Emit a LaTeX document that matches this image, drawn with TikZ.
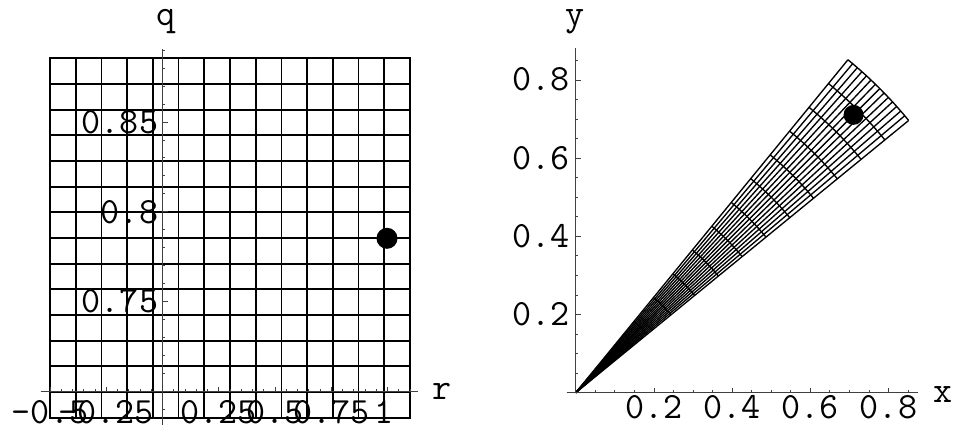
\documentclass[tikz,border=0pt]{standalone}
\usetikzlibrary{positioning}

\begin{document}
\begin{tikzpicture}[
    x=1pt, y=-1pt,
    gridline/.style={line width=1.8pt, line cap=rect},
    meshline/.style={line width=1.35pt},
    axisline/.style={line width=0.9pt, black!75},
    tickmark/.style={line width=0.8pt, black!75},
    ticklabel/.style={inner sep=0pt, font={\ttfamily\fontsize{37}{44}\selectfont}},
    axislabel/.style={inner sep=0pt, font={\ttfamily\fontsize{37}{44}\selectfont}},
    marker/.style={circle, fill=black, inner sep=0pt, minimum size=21pt}
]
    \useasboundingbox (0,0) rectangle (959,426);

    % Left plot: the (r,q) grid
    \foreach \i in {0,...,14} {
        \draw[gridline] ({50+\i*360/14},58.3) -- ({50+\i*360/14},417.7);
        \draw[gridline] (50,{58.3+\i*359.4/14}) -- (410,{58.3+\i*359.4/14});
    }

    % Left plot: axes and ticks
    \draw[axisline] (162.5,49) -- (162.5,425);
    \draw[axisline] (40.7,391.5) -- (418,391.5);
    \foreach \k in {-11,...,9}
        \draw[tickmark] (162.5,{211.8-17.97*\k}) -- ++(2.5,0);
    \foreach \k in {-5,0,5}
        \draw[tickmark] (162.5,{211.8-17.97*\k}) -- ++(5,0);
    \foreach \k in {-10,...,22}
        \draw[tickmark] ({162.5+11.25*\k},391.5) -- ++(0,-2.5);
    \foreach \k in {-10,-5,5,10,15,20}
        \draw[tickmark] ({162.5+11.25*\k},391.5) -- ++(0,-5);

    \node[ticklabel, anchor=base east] (q085) at (158.3,{211.8-89.85+11.3}) {0.85};
    \node[ticklabel, anchor=base east] (q080) at (158.3,{211.8+11.3}) {0.8};
    \node[ticklabel, anchor=base east] (q075) at (158.3,{211.8+89.85+11.3}) {0.75};

    \node[ticklabel, anchor=base] (rm050) at ({162.5-112.5},423) {-0.5};
    \node[ticklabel, anchor=base] (rm025) at ({162.5-56.25},423) {-0.25};
    \node[ticklabel, anchor=base] (r025) at ({162.5+56.25},423) {0.25};
    \node[ticklabel, anchor=base] (r050) at ({162.5+112.5},423) {0.5};
    \node[ticklabel, anchor=base] (r075) at ({162.5+168.75},423) {0.75};
    \node[ticklabel, anchor=base] (r100) at ({162.5+222},423) {1};

    \node[axislabel] (labq) at (165.7,22) {q};
    \node[axislabel] (labr) at (441.7,391.5) {r};

    \node[marker] (dotqr) at (387,238.3) {};

    % Right plot: image of the grid under (r,q) -> (r cos q, r sin q)
    \begin{scope}[shift={(575.7,392.7)}, x=391pt, y=391pt]
        \foreach \j in {0,...,14}
            \draw[meshline] (0,0) -- ({39.27+\j*11.4592/14}:1.1);
        \foreach \k in {1,...,14}
            \draw[meshline] (39.27:{\k*1.1/14})
                arc[start angle=39.27, end angle=50.73, radius={\k*1.1/14}];
        \node[marker, minimum size=20pt] (dotxy) at (45:1.005) {};
    \end{scope}

    % Right plot: axes and ticks
    \draw[axisline] (575.7,392.7) -- (575.7,48);
    \draw[axisline] (566.7,392.7) -- (918.3,392.7);
    \foreach \k in {1,...,17} {
        \draw[tickmark] (575.7,{392.7-19.55*\k}) -- ++(2.5,0);
        \draw[tickmark] ({575.7+19.55*\k},392.7) -- ++(0,-2.5);
    }
    \foreach \k in {4,8,12,16} {
        \draw[tickmark] (575.7,{392.7-19.55*\k}) -- ++(5,0);
        \draw[tickmark] ({575.7+19.55*\k},392.7) -- ++(0,-5);
    }

    \node[ticklabel, anchor=base east] (y02) at (570,{392.7-78.2+11}) {0.2};
    \node[ticklabel, anchor=base east] (y04) at (570,{392.7-156.4+11}) {0.4};
    \node[ticklabel, anchor=base east] (y06) at (570,{392.7-234.6+11}) {0.6};
    \node[ticklabel, anchor=base east] (y08) at (570,{392.7-312.8+11}) {0.8};

    \node[ticklabel, anchor=base] (x02) at ({575.7+78.2},418.5) {0.2};
    \node[ticklabel, anchor=base] (x04) at ({575.7+156.4},418.5) {0.4};
    \node[ticklabel, anchor=base] (x06) at ({575.7+234.6},418.5) {0.6};
    \node[ticklabel, anchor=base] (x08) at ({575.7+312.8},418.5) {0.8};

    \node[axislabel] (laby) at (575,22) {y};
    \node[axislabel] (labx) at (943,394.5) {x};
\end{tikzpicture}
\end{document}
